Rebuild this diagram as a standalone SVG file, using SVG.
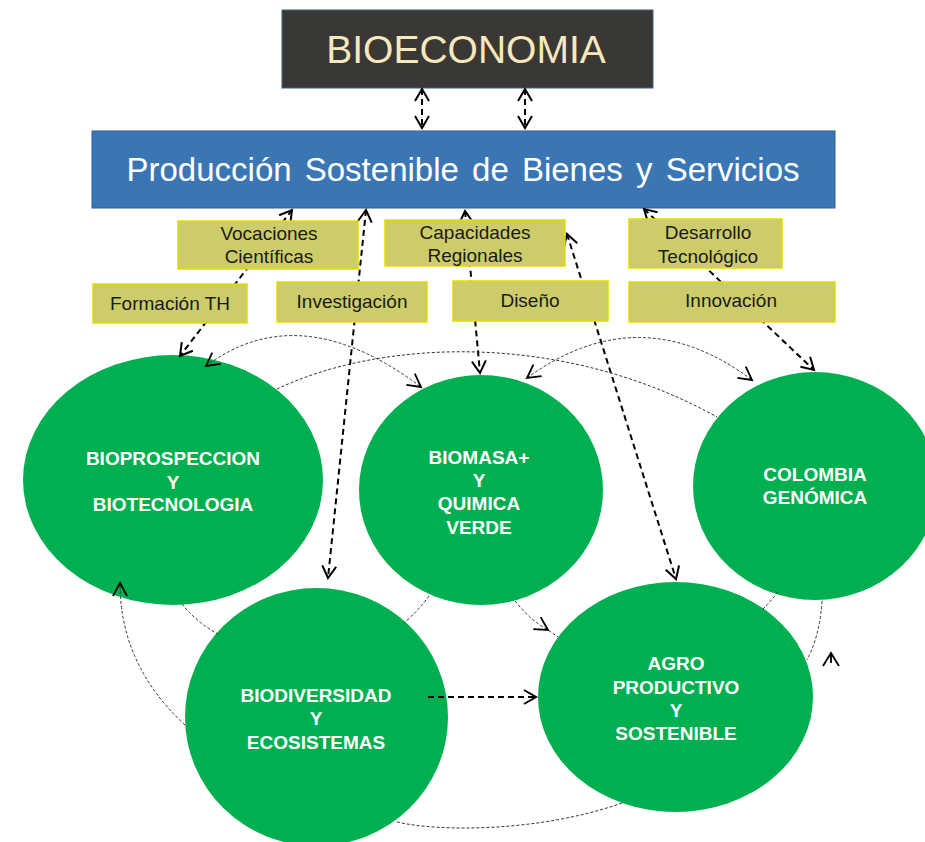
<svg xmlns="http://www.w3.org/2000/svg" width="925" height="842" viewBox="0 0 925 842">
<style>
.lbl rect{fill:#cdcc6a;stroke:#e4dc00;stroke-width:1.5}
.lbl text{font-family:"Liberation Sans",Arial,sans-serif;font-size:19px;fill:#1a1a1a;text-anchor:middle}
.circ ellipse{fill:#00af50}
.circ text{font-family:"Liberation Sans",Arial,sans-serif;font-size:19px;font-weight:bold;fill:#ffffff;text-anchor:middle}
.thick{fill:none;stroke:#000;stroke-width:2;stroke-dasharray:6 4}
.thin{fill:none;stroke:#333;stroke-width:1;stroke-dasharray:3 2}
</style>
<defs>
<marker id="ah" markerUnits="userSpaceOnUse" markerWidth="30" markerHeight="30" viewBox="-15 -15 30 30" refX="0" refY="0" orient="auto-start-reverse">
<path d="M-12,-7 L0,0 L-12,7" fill="none" stroke="#000" stroke-width="2"/>
</marker>
<marker id="ahs" markerUnits="userSpaceOnUse" markerWidth="30" markerHeight="30" viewBox="-15 -15 30 30" refX="0" refY="0" orient="auto-start-reverse">
<path d="M-13,-7 L0,0 L-13,7" fill="none" stroke="#000" stroke-width="1.8"/>
</marker>
</defs>
<rect width="925" height="842" fill="#ffffff"/>

<g id="bioeconomia">
<rect x="282" y="10" width="371" height="78" fill="#3a3835" stroke="#3d5f8c" stroke-width="1"/>
<text x="466" y="63" font-family="'Liberation Sans',Arial,sans-serif" font-size="39" fill="#f7e8bd" text-anchor="middle">BIOECONOMIA</text>
</g>

<g id="produccion">
<rect x="92" y="131" width="743" height="77" fill="#3b76b4" stroke="#2f5f94" stroke-width="1"/>
<text x="463" y="181" font-family="'Liberation Sans',Arial,sans-serif" font-size="33" fill="#ffffff" text-anchor="middle" word-spacing="4">Producción Sostenible de Bienes y Servicios</text>
</g>

<g id="n-bioprospeccion" class="circ">
<ellipse cx="173" cy="480" rx="150" ry="125"/>
<text x="173" y="465">BIOPROSPECCION</text>
<text x="173" y="489">Y</text>
<text x="173" y="511">BIOTECNOLOGIA</text>
</g>
<g id="n-biomasa" class="circ">
<ellipse cx="481" cy="490" rx="122" ry="115"/>
<text x="479" y="464">BIOMASA+</text>
<text x="479" y="487">Y</text>
<text x="479" y="510">QUIMICA</text>
<text x="479" y="534">VERDE</text>
</g>
<g id="n-colombia" class="circ">
<ellipse cx="815" cy="486" rx="122" ry="114"/>
<text x="815" y="481">COLOMBIA</text>
<text x="815" y="504">GENÓMICA</text>
</g>
<g id="n-biodiversidad" class="circ">
<ellipse cx="316.5" cy="717" rx="131.5" ry="129"/>
<text x="316" y="702">BIODIVERSIDAD</text>
<text x="316" y="725">Y</text>
<text x="316" y="749">ECOSISTEMAS</text>
</g>
<g id="n-agro" class="circ">
<ellipse cx="675.5" cy="697" rx="137.5" ry="115"/>
<text x="676" y="670">AGRO</text>
<text x="676" y="694">PRODUCTIVO</text>
<text x="676" y="717">Y</text>
<text x="676" y="740">SOSTENIBLE</text>
</g>

<g id="connectors">
<path class="thick" d="M422,89 L422,128" marker-start="url(#ah)" marker-end="url(#ah)"/>
<path class="thick" d="M525,89 L525,128" marker-start="url(#ah)" marker-end="url(#ah)"/>
<path class="thick" d="M292,210 L180,356" marker-start="url(#ah)" marker-end="url(#ah)"/>
<path class="thick" d="M366,210 L328,578" marker-start="url(#ah)" marker-end="url(#ah)"/>
<path class="thick" d="M465,211 L480,373" marker-start="url(#ah)" marker-end="url(#ah)"/>
<path class="thick" d="M567,234 L676,579" marker-start="url(#ah)" marker-end="url(#ah)"/>
<path class="thick" d="M644,209 L814,370" marker-start="url(#ah)" marker-end="url(#ah)"/>
<path class="thick" d="M428,697 L536,697" marker-end="url(#ah)"/>

<path class="thin" d="M206,366 Q300,296 421,387" marker-start="url(#ahs)" marker-end="url(#ahs)"/>
<path class="thin" d="M277,389 C380,340 560,330 717,417"/>
<path class="thin" d="M527,378 Q640,296 752,380" marker-start="url(#ahs)" marker-end="url(#ahs)"/>
<path class="thin" d="M185,725 Q120,665 120,583" marker-end="url(#ahs)"/>
<path class="thin" d="M182,604 Q196,622 218,634"/>
<path class="thin" d="M429,596 Q418,611 404,623"/>
<path class="thin" d="M515,601 Q530,620 548,630 L558,637" marker-mid="url(#ahs)"/>
<path class="thin" d="M778,592 Q771,601 763,609"/>
<path class="thin" d="M822,601 Q820,635 807,660"/>
<path class="thin" d="M397,822 C440,832 540,832 622,803"/>
<path d="M823,666 L831,653 L839,666 M831,653 L831,663" fill="none" stroke="#000" stroke-width="1.8"/>
</g>

<g id="l-vocaciones" class="lbl">
<rect x="178" y="221" width="180" height="48"/>
<text x="269" y="240">Vocaciones</text>
<text x="269" y="263">Científicas</text>
</g>
<g id="l-formacion" class="lbl">
<rect x="93" y="284" width="154" height="39"/>
<text x="170" y="310">Formación TH</text>
</g>
<g id="l-investigacion" class="lbl">
<rect x="277" y="282" width="150" height="40"/>
<text x="352" y="308">Investigación</text>
</g>
<g id="l-capacidades" class="lbl">
<rect x="385" y="220" width="180" height="46"/>
<text x="475" y="239">Capacidades</text>
<text x="475" y="262">Regionales</text>
</g>
<g id="l-diseno" class="lbl">
<rect x="453" y="281" width="155" height="40"/>
<text x="530" y="307">Diseño</text>
</g>
<g id="l-desarrollo" class="lbl">
<rect x="629" y="219" width="153" height="49"/>
<text x="708" y="239">Desarrollo</text>
<text x="708" y="263">Tecnológico</text>
</g>
<g id="l-innovacion" class="lbl">
<rect x="629" y="282" width="206" height="40"/>
<text x="731" y="307">Innovación</text>
</g>
</svg>
